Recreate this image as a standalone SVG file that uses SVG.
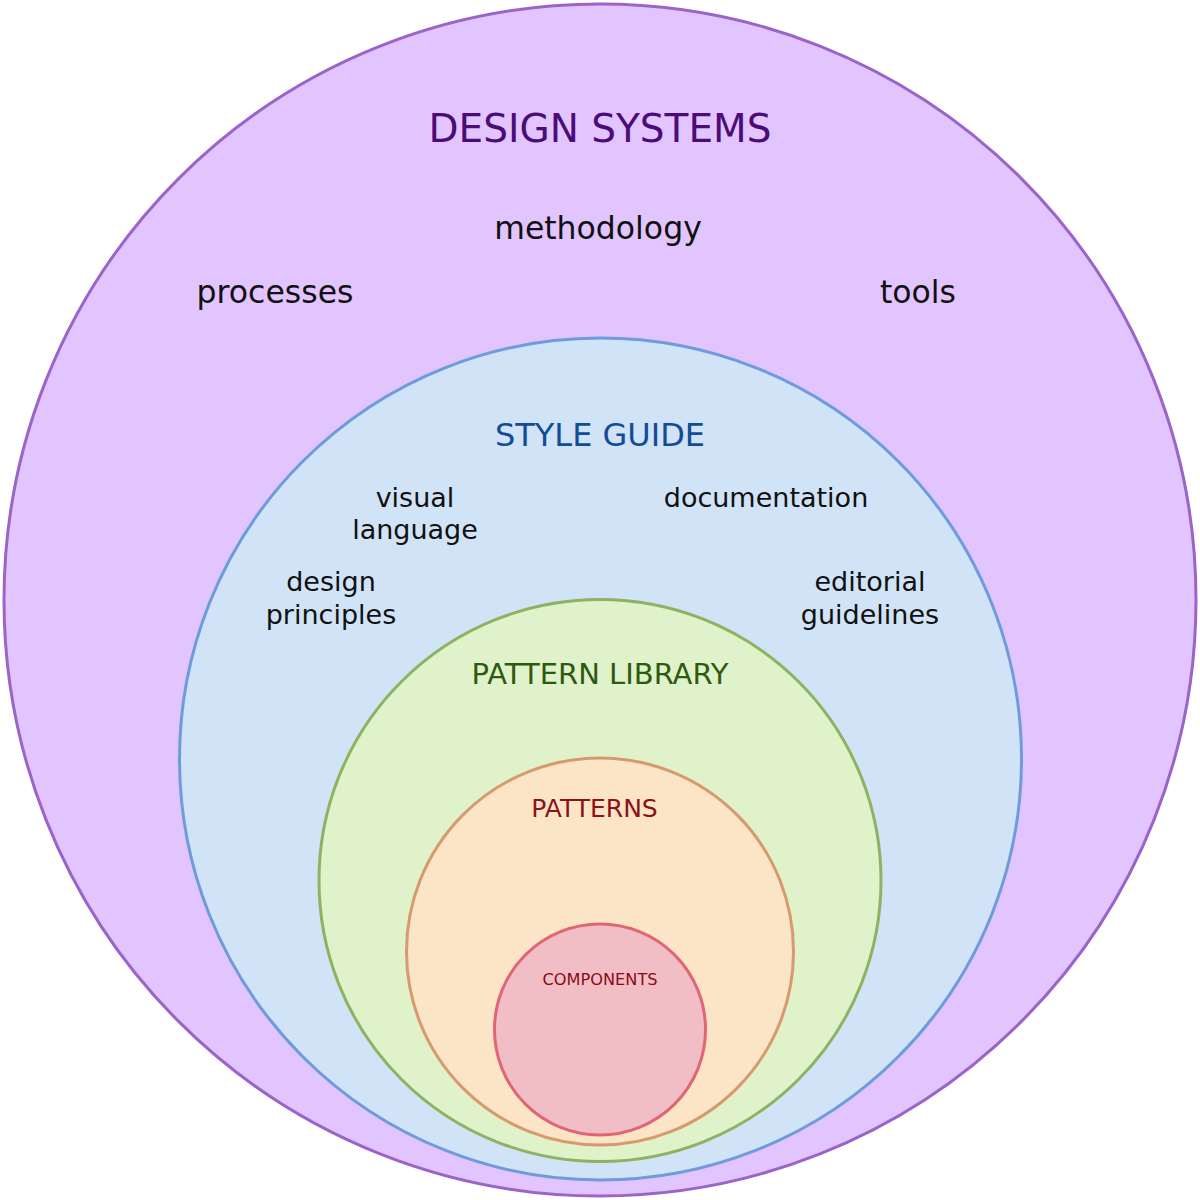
<svg xmlns="http://www.w3.org/2000/svg" width="1200" height="1200" viewBox="0 0 1200 1200">
<style>
text{font-family:"DejaVu Sans","Liberation Sans",sans-serif;text-anchor:middle;}
.lbl{fill:#111;font-size:27px;}
.top{fill:#111;font-size:31.5px;}
circle{stroke-width:3;}
</style>
<rect width="1200" height="1200" fill="#ffffff"/>
<g id="design-systems">
<circle cx="600" cy="600" r="596" fill="#E2C4FF" stroke="#9A64C8"/>
<text x="600" y="142" font-size="39" fill="#4B0C78">DESIGN SYSTEMS</text>
<text class="top" x="598" y="239">methodology</text>
<text class="top" x="275" y="303">processes</text>
<text class="top" x="918" y="303">tools</text>
</g>
<g id="style-guide">
<circle cx="600.5" cy="759" r="421" fill="#D0E3F7" stroke="#6E9BDC"/>
<text x="600" y="446" font-size="32" fill="#114C96">STYLE GUIDE</text>
<text class="lbl" x="415" y="507">visual</text>
<text class="lbl" x="415" y="539">language</text>
<text class="lbl" x="766" y="507">documentation</text>
<text class="lbl" x="331" y="591">design</text>
<text class="lbl" x="331" y="624">principles</text>
<text class="lbl" x="870" y="591">editorial</text>
<text class="lbl" x="870" y="624">guidelines</text>
</g>
<g id="pattern-library">
<circle cx="600" cy="880.5" r="281" fill="#DFF2CA" stroke="#8DB361"/>
<text x="600" y="684" font-size="29" fill="#2E5A10">PATTERN LIBRARY</text>
</g>
<g id="patterns">
<circle cx="600" cy="951.5" r="193.5" fill="#FCE5C7" stroke="#D89A6C"/>
<text x="594.5" y="817" font-size="25" fill="#8B1218">PATTERNS</text>
</g>
<g id="components">
<circle cx="600" cy="1029.5" r="105.5" fill="#F2BEC6" stroke="#E06676"/>
<text x="600" y="985" font-size="16.2" fill="#8B0A18">COMPONENTS</text>
</g>
<g id="connectors"/>
</svg>
